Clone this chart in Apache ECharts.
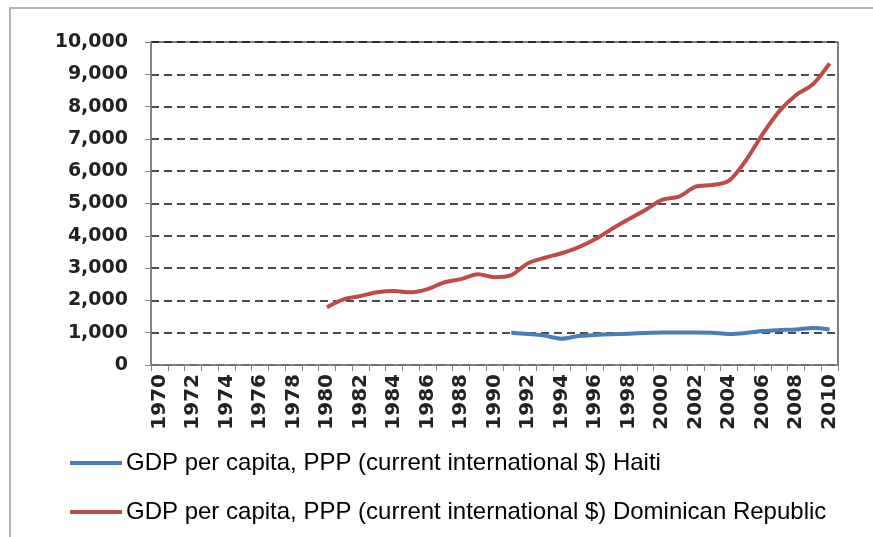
<!DOCTYPE html>
<html>
<head>
<meta charset="utf-8">
<script src="https://cdn.jsdelivr.net/npm/echarts@6/dist/echarts.min.js"></script>
<style>
  html, body {margin: 0; padding: 0; background: #fff;}
  #chart {width: 873px; height: 537px;}
</style>
</head>
<body>
<div id="chart"></div>
<script>
const years = [];
for (let y = 1970; y <= 2010; y++) years.push(String(y));

// values, 1970..2010 (null = no data)
const haiti = [
  null, null, null, null, null, null, null, null, null, null,
  null, null, null, null, null, null, null, null, null, null,
  null, 1000, 960, 910, 815, 900, 930, 950, 970, 990,
  1010, 1010, 1010, 1000, 960, 990, 1050, 1080, 1100, 1145, 1100,
];
const dominican = [
  null, null, null, null, null, null, null, null, null, null,
  1790, 2030, 2135, 2250, 2290, 2250, 2350, 2560, 2660, 2810,
  2720, 2785, 3150, 3320, 3460, 3640, 3890, 4210, 4510, 4800,
  5110, 5210, 5520, 5570, 5710, 6330, 7150, 7860, 8360, 8690, 9340,
];
const seriesNames = [
  'GDP per capita, PPP (current international $) Haiti',
  'GDP per capita, PPP (current international $) Dominican Republic',
];

const chart = echarts.init(document.getElementById('chart'));

const gray = '#868686';

chart.setOption({
  animation: false,
  backgroundColor: '#fff',
  graphic: [{
    type: 'rect',
    shape: {x: 10, y: 8, width: 900, height: 600},
    style: {fill: 'none', stroke: '#b4b4b4', lineWidth: 2},
    silent: true,
    z: 0,
  }],
  grid: {
    left: 151, right: 35, top: 42, bottom: 172,
    show: true, borderColor: '#000', borderWidth: 1,
  },
  legend: {
    left: 70, top: 451,
    padding: 0,
    orient: 'vertical',
    icon: 'rect',
    itemWidth: 52, itemHeight: 4,
    itemGap: 25,
    textStyle: {
      fontFamily: '"Liberation Sans", sans-serif',
      fontSize: 24, lineHeight: 24, color: '#000', padding: [0, 0, 0, -1],
    },
    data: seriesNames,
  },
  xAxis: {
    type: 'category',
    data: years,
    boundaryGap: true,
    z: 5,
    axisLine: {lineStyle: {color: gray, width: 1.5}},
    axisTick: {show: true, interval: 0, length: 6, lineStyle: {color: gray}},
    axisLabel: {
      interval: 1, rotate: 90, margin: 9,
      fontFamily: '"DejaVu Sans", sans-serif', fontWeight: 'bold',
      fontSize: 20, color: '#222',
    },
  },
  yAxis: {
    type: 'value',
    min: 0, max: 10000, interval: 1000,
    axisLine: {show: true, lineStyle: {color: gray, width: 1.5}},
    axisTick: {show: true, length: 6, lineStyle: {color: gray}},
    axisLabel: {
      margin: 23,
      fontFamily: '"DejaVu Sans", sans-serif', fontWeight: 'bold',
      fontSize: 19, color: '#222',
      formatter: v => v.toLocaleString('en-US'),
    },
    splitLine: {lineStyle: {color: '#111', width: 1.5, type: [8, 5]}},
  },
  series: [
    {
      name: seriesNames[0], type: 'line', data: haiti,
      symbol: 'none', smooth: 0.3,
      itemStyle: {color: '#4a7ebb'},
      lineStyle: {color: '#4a7ebb', width: 4},
    },
    {
      name: seriesNames[1], type: 'line', data: dominican,
      symbol: 'none', smooth: 0.3,
      itemStyle: {color: '#be4b48'},
      lineStyle: {color: '#be4b48', width: 4},
    },
  ],
});
</script>
</body>
</html>
